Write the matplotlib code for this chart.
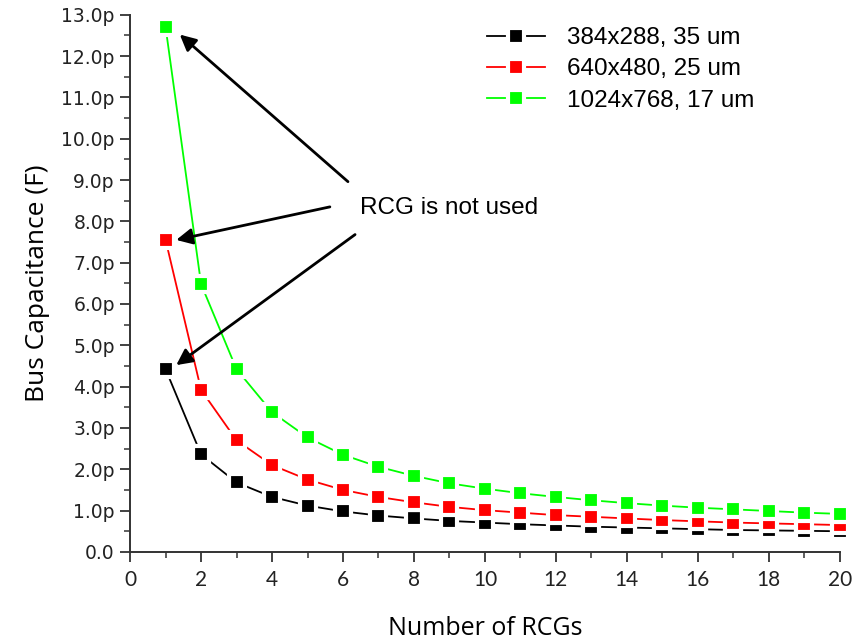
import matplotlib
matplotlib.use("Agg")
import matplotlib.pyplot as plt
from matplotlib.ticker import MultipleLocator, FuncFormatter

# number of RCGs and bus capacitance in pF
n_rcg = list(range(1, 21))
cap_384 = [4.42, 2.36, 1.68, 1.33, 1.12, 0.98, 0.88, 0.81, 0.75, 0.71,
           0.67, 0.64, 0.61, 0.59, 0.57, 0.55, 0.53, 0.52, 0.51, 0.50]
cap_640 = [7.55, 3.92, 2.70, 2.10, 1.75, 1.50, 1.33, 1.20, 1.09, 1.01,
           0.95, 0.89, 0.85, 0.81, 0.77, 0.74, 0.71, 0.69, 0.67, 0.65]
cap_1024 = [12.7, 6.48, 4.42, 3.38, 2.77, 2.35, 2.06, 1.84, 1.66, 1.53,
            1.42, 1.33, 1.25, 1.18, 1.12, 1.07, 1.03, 0.99, 0.95, 0.92]
labels = ["384x288, 35 um", "640x480, 25 um", "1024x768, 17 um"]
colors = ["#000000", "#ff0000", "#00ff00"]

# annotation: text spot and arrow tips (data coords)
note_text = "RCG is not used"
note_xy = (6.48, 8.33)
arrow_tails = [(6.14, 8.96), (5.63, 8.35), (6.34, 7.68)]
arrow_heads = [(1.4, 12.52), (1.3, 7.55), (1.3, 4.52)]

fig = plt.figure(figsize=(8.56, 6.41), dpi=100)
ax = fig.add_axes([0.152, 0.139, 0.829, 0.838])

for ys, lab, c in zip([cap_384, cap_640, cap_1024], labels, colors):
    ax.plot(n_rcg, ys, color=c, lw=1.3, marker="s", markersize=11.5,
            markerfacecolor=c, markeredgecolor="white", markeredgewidth=3,
            label=lab, clip_on=False)

ax.set_xlim(0, 20)
ax.set_ylim(0, 13)
ax.xaxis.set_major_locator(MultipleLocator(2))
ax.xaxis.set_minor_locator(MultipleLocator(1))
ax.yaxis.set_major_locator(MultipleLocator(1))
ax.yaxis.set_minor_locator(MultipleLocator(0.5))
ax.yaxis.set_major_formatter(FuncFormatter(
    lambda v, p: "0.0" if abs(v) < 1e-9 else "%.1fp" % v))

for s in ["top", "right"]:
    ax.spines[s].set_visible(False)
for s in ["left", "bottom"]:
    ax.spines[s].set_linewidth(1.4)
    ax.spines[s].set_color("#333333")
ax.tick_params(which="major", direction="out", length=7, width=1.3, color="#333333")
ax.tick_params(which="minor", direction="out", length=4, width=1.1, color="#333333")
ax.tick_params(axis="y", pad=4, labelsize=13.5, labelfontfamily="DejaVu Sans",
               labelcolor="#222222")
ax.tick_params(axis="x", pad=6, labelsize=15, labelfontfamily="Lato",
               labelcolor="#222222")

ax.set_xlabel("Number of RCGs", fontfamily="Open Sans", fontsize=18, labelpad=19)
ax.set_ylabel("Bus Capacitance (F)", fontfamily="Open Sans", fontsize=19, labelpad=8)

leg = ax.legend(loc="upper left", bbox_to_anchor=(0.503, 0.977), frameon=False,
                prop={"family": "Liberation Sans", "size": 17.5},
                borderaxespad=0, borderpad=0,
                handlelength=2.4, handletextpad=0.9, labelspacing=0.38)

ax.text(note_xy[0], note_xy[1], note_text, fontfamily="Liberation Sans",
        fontsize=17.5, va="center", ha="left")
for tail, head in zip(arrow_tails, arrow_heads):
    ax.annotate("", xy=head, xytext=tail,
                arrowprops=dict(arrowstyle="-|>", color="black", lw=2,
                                mutation_scale=24, shrinkA=0, shrinkB=0))

fig.savefig("out.png", dpi=100)
